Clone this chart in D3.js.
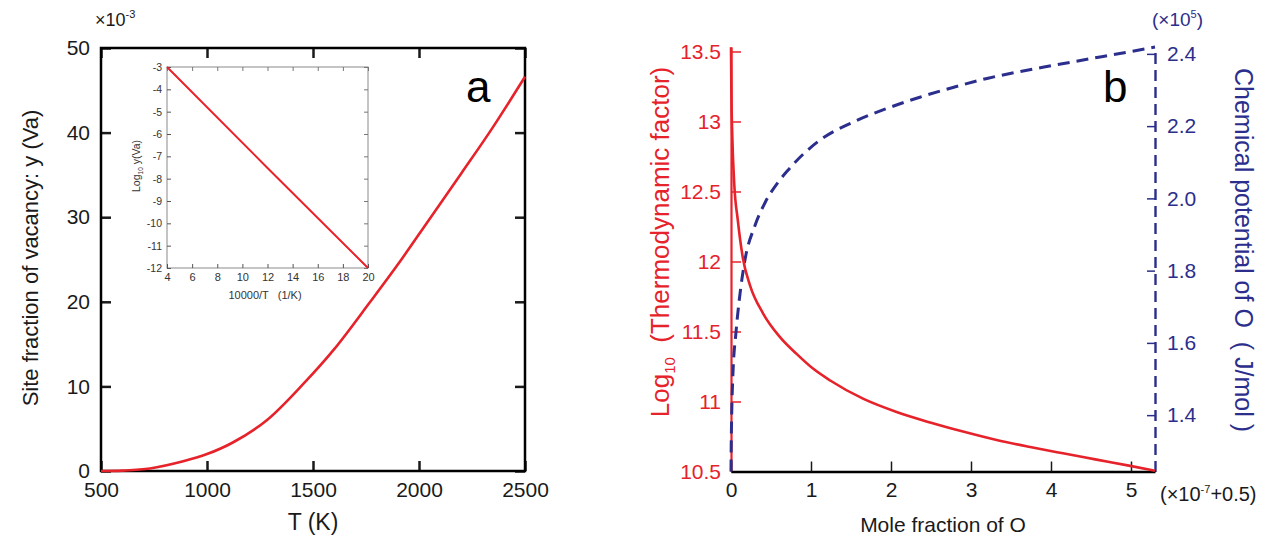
<!DOCTYPE html>
<html><head><meta charset="utf-8">
<script src="https://cdn.jsdelivr.net/npm/d3@7"></script>
<style>
body{margin:0;background:#fff}
svg{display:block;background:#fff}
text{font-family:"Liberation Sans",Arial,sans-serif}
</style>
</head><body>
<svg id="chart" width="1273" height="542"></svg>
<script>
// ---------------- data ----------------
// panel a: site fraction of vacancy (x10^-3) vs temperature
const tempK   = [500, 600, 731, 888, 1000, 1124, 1282, 1462, 1600, 1770, 1900, 2050, 2200, 2345, 2500];
const vacancy = [0, 0.05, 0.3, 1.15, 2.0, 3.4, 6.0, 10.5, 14.4, 20, 24.4, 29.8, 35.2, 40.5, 46.6];
const tickT   = [500, 1000, 1500, 2000, 2500];
const tickVac = [0, 10, 20, 30, 40, 50];
// inset: log10 y(Va) vs 10000/T
const invT    = [4, 12, 20];
const logVac  = [-3, -7.52, -12];
const tickInvT   = [4, 6, 8, 10, 12, 14, 16, 18, 20];
const tickLogVac = [-3, -4, -5, -6, -7, -8, -9, -10, -11, -12];
// panel b: mole fraction of O (x10^-7 + 0.5)
const moleTF  = [0, 0.005, 0.016, 0.041, 0.084, 0.15, 0.2375, 0.40, 0.6125, 0.82, 1.025, 1.24, 1.65, 2.07, 2.49, 2.9, 3.32, 3.74, 4.15, 4.57, 4.99, 5.3];
const logTF   = [13.53, 13.2, 12.9, 12.55, 12.3, 12.02, 11.83, 11.63, 11.46, 11.34, 11.235, 11.15, 11.02, 10.925, 10.85, 10.785, 10.725, 10.675, 10.63, 10.585, 10.54, 10.505];
const moleMu  = [0, 0.002, 0.009, 0.021, 0.0625, 0.104, 0.175, 0.3, 0.43, 0.59, 0.70, 1.11, 1.525, 1.95, 2.36, 2.775, 3.2, 3.61, 4.025, 4.45, 4.86, 5.3];
const chemMu  = [1.244, 1.30, 1.405, 1.497, 1.63, 1.72, 1.83, 1.925, 1.99, 2.045, 2.075, 2.161, 2.211, 2.249, 2.280, 2.307, 2.332, 2.351, 2.368, 2.385, 2.401, 2.419]; // x10^5
const tickMole = [0, 1, 2, 3, 4, 5];
const tickTF   = [10.5, 11, 11.5, 12, 12.5, 13, 13.5];
const tickMu   = [1.4, 1.6, 1.8, 2.0, 2.2, 2.4];

// ---------------- styles ----------------
const RED = "#e6222a", BLUE = "#2b2e8c", INK = "#1a1a1a";
const svg = d3.select("#chart");

function styleAxis(g, color, width, fs) {
  g.selectAll(".tick line").attr("stroke", color).attr("stroke-width", width);
  g.selectAll(".tick text").attr("fill", color).attr("font-size", fs)
    .attr("font-family", '"Liberation Sans",Arial,sans-serif');
  return g;
}

// ================= panel a =================
const xA = d3.scaleLinear().domain([500, 2500]).range([101, 525]);
const yA = d3.scaleLinear().domain([0, 50]).range([471, 48]);

const gA = svg.append("g");
gA.append("g").attr("transform", `translate(0,${yA(0)})`)
  .call(d3.axisBottom(xA).tickValues(tickT).tickSizeInner(-10).tickSizeOuter(0).tickPadding(11).tickFormat(d3.format("d")))
  .call(g => g.select(".domain").remove()).call(g => styleAxis(g, INK, 2.5, 21));
gA.append("g").attr("transform", `translate(${xA(500)},0)`)
  .call(d3.axisLeft(yA).tickValues(tickVac).tickSizeInner(-10).tickSizeOuter(0).tickPadding(11).tickFormat(d3.format("d")))
  .call(g => g.select(".domain").remove()).call(g => styleAxis(g, INK, 2.5, 21));
gA.append("g").attr("transform", `translate(0,${yA(50)})`)
  .call(d3.axisTop(xA).tickValues(tickT).tickSizeInner(-10).tickSizeOuter(0).tickFormat(""))
  .call(g => g.select(".domain").remove()).call(g => styleAxis(g, INK, 2.5, 21));
gA.append("g").attr("transform", `translate(${xA(2500)},0)`)
  .call(d3.axisRight(yA).tickValues(tickVac).tickSizeInner(-10).tickSizeOuter(0).tickFormat(""))
  .call(g => g.select(".domain").remove()).call(g => styleAxis(g, INK, 2.5, 21));
gA.append("rect").attr("x", xA(500)).attr("y", yA(50))
  .attr("width", xA(2500) - xA(500)).attr("height", yA(0) - yA(50))
  .attr("fill", "none").attr("stroke", "#000").attr("stroke-width", 2.5);

const lineA = d3.line().x(i => xA(tempK[i])).y(i => yA(vacancy[i])).curve(d3.curveCatmullRom.alpha(0.5));
gA.append("path").attr("d", lineA(d3.range(tempK.length)))
  .attr("fill", "none").attr("stroke", RED).attr("stroke-width", 2.6);

const mult = gA.append("text").attr("x", 95).attr("y", 26).attr("font-size", 18).attr("fill", INK);
mult.append("tspan").text("×10");
mult.append("tspan").attr("font-size", 11).attr("dy", -8).text("-3");

gA.append("text").attr("x", 466).attr("y", 102).attr("font-size", 44).attr("fill", "#000").text("a");
gA.append("text").attr("transform", "translate(38,258) rotate(-90)").attr("text-anchor", "middle")
  .attr("font-size", 22).attr("fill", INK).text("Site fraction of vacancy: y (Va)");
gA.append("text").attr("x", 313).attr("y", 530).attr("text-anchor", "middle")
  .attr("font-size", 23).attr("fill", INK).text("T (K)");

// ---- inset ----
const xI = d3.scaleLinear().domain([4, 20]).range([167, 368]);
const yI = d3.scaleLinear().domain([-12, -3]).range([268, 67]);
const gI = svg.append("g");
gI.append("rect").attr("x", xI(4)).attr("y", yI(-3)).attr("width", xI(20) - xI(4)).attr("height", yI(-12) - yI(-3))
  .attr("fill", "#fff").attr("stroke", "#8a8a8a").attr("stroke-width", 1);
const fmtI = d => String(d);
gI.append("g").attr("transform", `translate(0,${yI(-12)})`)
  .call(d3.axisBottom(xI).tickValues(tickInvT).tickSizeInner(-4).tickSizeOuter(0).tickPadding(5).tickFormat(fmtI))
  .call(g => g.select(".domain").remove()).call(g => styleAxis(g, "#555", 1, 11));
gI.append("g").attr("transform", `translate(${xI(4)},0)`)
  .call(d3.axisLeft(yI).tickValues(tickLogVac).tickSizeInner(-4).tickSizeOuter(0).tickPadding(5).tickFormat(fmtI))
  .call(g => g.select(".domain").remove()).call(g => styleAxis(g, "#555", 1, 10.5));
gI.append("g").attr("transform", `translate(0,${yI(-3)})`)
  .call(d3.axisTop(xI).tickValues(tickInvT).tickSizeInner(-4).tickSizeOuter(0).tickFormat(""))
  .call(g => g.select(".domain").remove()).call(g => styleAxis(g, "#777", 1, 10));
gI.append("g").attr("transform", `translate(${xI(20)},0)`)
  .call(d3.axisRight(yI).tickValues(tickLogVac).tickSizeInner(-4).tickSizeOuter(0).tickFormat(""))
  .call(g => g.select(".domain").remove()).call(g => styleAxis(g, "#777", 1, 10));
gI.selectAll(".tick text").attr("fill", "#333");
const lineI = d3.line().x(i => xI(invT[i])).y(i => yI(logVac[i]));
gI.append("path").attr("d", lineI(d3.range(invT.length)))
  .attr("fill", "none").attr("stroke", RED).attr("stroke-width", 2);
gI.append("text").attr("x", 265).attr("y", 299).attr("text-anchor", "middle")
  .attr("font-size", 11).attr("fill", "#333").style("white-space", "pre").text("10000/T   (1/K)");
const ti = gI.append("text").attr("transform", "translate(140,166) rotate(-90)").attr("text-anchor", "middle")
  .attr("font-size", 10.5).attr("fill", "#333");
ti.append("tspan").text("Log");
ti.append("tspan").attr("font-size", 6.5).attr("dy", 3).text("10");
ti.append("tspan").attr("dy", -3).text(" y(Va)");

// ================= panel b =================
const xB = d3.scaleLinear().domain([0, 5.3]).range([731, 1155]);
const yR = d3.scaleLinear().domain([10.5, 13.532]).range([471.5, 47]);
const yB = d3.scaleLinear().domain([1.244, 2.419]).range([471.5, 47]);
const gB = svg.append("g");

// left (red) axis
gB.append("g").attr("transform", `translate(${xB(0)},0)`)
  .call(d3.axisLeft(yR).tickValues(tickTF).tickSizeInner(-10).tickSizeOuter(0).tickPadding(10).tickFormat(d => String(d)))
  .call(g => g.select(".domain").attr("stroke", RED).attr("stroke-width", 2.2))
  .call(g => styleAxis(g, RED, 1.5, 21));
// right (blue) axis, dashed
gB.append("g").attr("transform", `translate(${xB(5.3)},0)`)
  .call(d3.axisRight(yB).tickValues(tickMu).tickSizeInner(-8).tickSizeOuter(0).tickPadding(12).tickFormat(d3.format(".1f")))
  .call(g => g.select(".domain").attr("stroke", BLUE).attr("stroke-width", 2.4).attr("stroke-dasharray", "11,6"))
  .call(g => styleAxis(g, BLUE, 1.5, 21));
// bottom axis
gB.append("g").attr("transform", `translate(0,${yR(10.5)})`)
  .call(d3.axisBottom(xB).tickValues(tickMole).tickSizeInner(-10).tickSizeOuter(0).tickPadding(11).tickFormat(d3.format("d")))
  .call(g => g.select(".domain").attr("stroke", "#000").attr("stroke-width", 2.5))
  .call(g => styleAxis(g, INK, 1.5, 21));

// curves
const lineMu = d3.line().x(i => xB(moleMu[i])).y(i => yB(chemMu[i])).curve(d3.curveMonotoneX);
gB.append("path").attr("d", lineMu(d3.range(moleMu.length)))
  .attr("fill", "none").attr("stroke", BLUE).attr("stroke-width", 3).attr("stroke-dasharray", "12,7");
const lineTF = d3.line().x(i => xB(moleTF[i])).y(i => yR(logTF[i])).curve(d3.curveMonotoneX);
gB.append("path").attr("d", lineTF(d3.range(moleTF.length)))
  .attr("fill", "none").attr("stroke", RED).attr("stroke-width", 2.6);

// labels
gB.append("text").attr("x", 1103).attr("y", 102).attr("font-size", 44).attr("fill", "#000").text("b");
const m5 = gB.append("text").attr("x", 1152).attr("y", 26).attr("font-size", 19).attr("fill", BLUE);
m5.append("tspan").text("(×10");
m5.append("tspan").attr("font-size", 11).attr("dy", -8).text("5");
m5.append("tspan").attr("dy", 8).text(")");
const m7 = gB.append("text").attr("x", 1160).attr("y", 501).attr("font-size", 20).attr("fill", INK);
m7.append("tspan").text("(×10");
m7.append("tspan").attr("font-size", 11).attr("dy", -8).text("-7");
m7.append("tspan").attr("dy", 8).text("+0.5)");
gB.append("text").attr("x", 943).attr("y", 532).attr("text-anchor", "middle")
  .attr("font-size", 21).attr("fill", INK).text("Mole fraction of O");
const tr = gB.append("text").attr("transform", "translate(669,242) rotate(-90)").attr("text-anchor", "middle")
  .attr("font-size", 26).attr("fill", RED).style("white-space", "pre");
tr.append("tspan").text("Log");
tr.append("tspan").attr("font-size", 15).attr("dy", 6).text("10");
tr.append("tspan").attr("dy", -6).text("  (Thermodynamic factor)");
gB.append("text").attr("transform", "translate(1235,250) rotate(90)").attr("text-anchor", "middle")
  .attr("font-size", 25).attr("fill", BLUE).style("white-space", "pre").text("Chemical potential of O  ( J/mol )");
</script>
</body></html>
